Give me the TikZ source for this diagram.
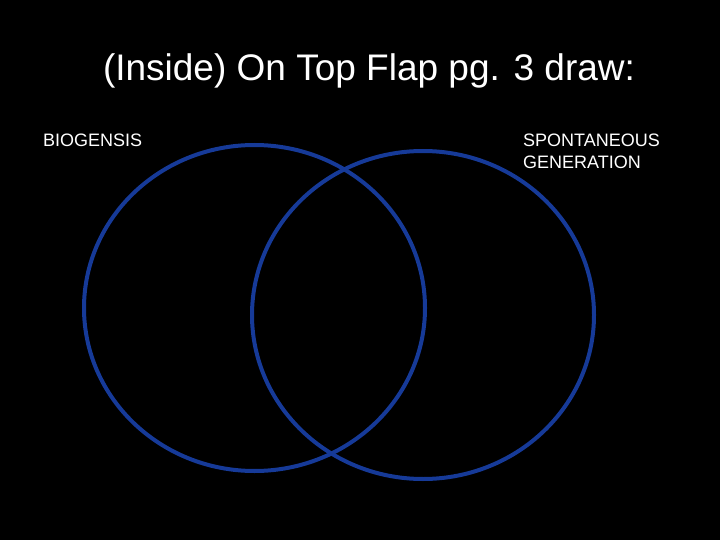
\documentclass[tikz,border=0pt]{standalone}
\usepackage{fontspec}
\setmainfont{Liberation Sans}
\definecolor{vennblue}{RGB}{22,58,152}
\begin{document}
\begin{tikzpicture}[x=1bp, y=-1bp,
    ring/.style={draw=vennblue, line width=4bp},
    caption/.style={white, font=\fontsize{18bp}{22bp}\selectfont, inner sep=0pt, anchor=base west, align=left}]
    \fill[black] (0,0) rectangle (720,540);
    \node[white, font=\fontsize{37bp}{44bp}\selectfont, inner sep=0pt, anchor=base] (title) at (369, 81) {(Inside) On Top Flap pg. 3 draw:};

    \draw[ring] (254.5,308) ellipse [x radius=170.5, y radius=163];
    \draw[ring] (423,315) ellipse [x radius=171, y radius=164];

    \node[caption] (bio) at (43, 147) {BIOGENSIS};
    \node[caption] (spont) at (523, 168.5) {SPONTANEOUS\\GENERATION};
\end{tikzpicture}
\end{document}
